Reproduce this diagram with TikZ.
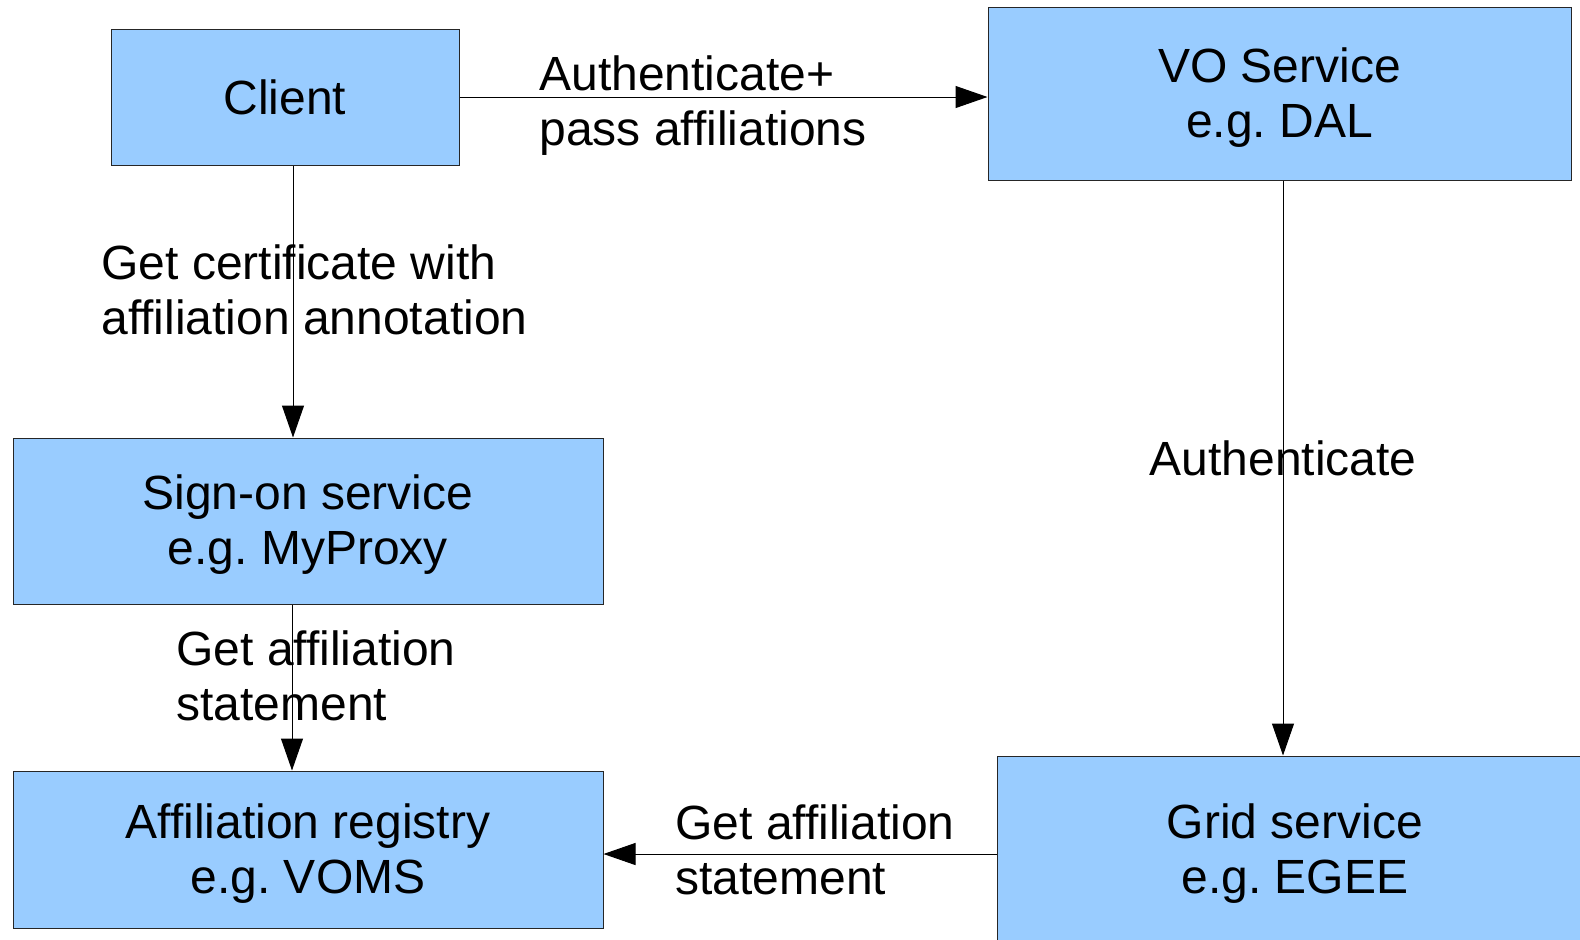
\documentclass[tikz,border=0pt]{standalone}
\usepackage{fontspec}
\setmainfont{Liberation Sans}
\usetikzlibrary{arrows.meta}
\definecolor{boxblue}{HTML}{99CCFF}
\frenchspacing
\newcommand{\boxtop}{\rule{0pt}{21pt}}
\begin{document}
\begin{tikzpicture}[x=0.5pt, y=-0.5pt,
  box/.style={draw=black!85, line width=0.5pt, fill=boxblue, inner sep=0pt, align=center, font=\fontsize{24}{27.5}\selectfont},
  lbl/.style={inner sep=0pt, align=left, font=\fontsize{24}{27.5}\selectfont},
  arr/.style={line width=0.5pt, -{Triangle[length=16pt, width=11pt]}}]
\useasboundingbox (0,0) rectangle (1580,939);
\node[box, minimum width=174pt, minimum height=68pt] (client) at (285,97){Client};
\node[box, minimum width=291.5pt, minimum height=86.5pt] (vo) at (1279.5,93.5){\boxtop VO Service\\e.g. DAL};
\node[box, minimum width=295pt, minimum height=83pt] (signon) at (308,521){\boxtop Sign-on service\\e.g. MyProxy};
\node[box, minimum width=295pt, minimum height=78.5pt] (registry) at (308,849.5){\boxtop Affiliation registry\\e.g. VOMS};
\node[box, minimum width=298pt, minimum height=93.5pt] (grid) at (1295,849.5){\boxtop Grid service\\e.g. EGEE};
\draw[arr](client.east) -- (client.east -| vo.west);
\draw[arr]([xshift=4pt]client.south) -- ([xshift=4pt]client.south |- signon.north);
\draw[arr]([xshift=-8pt]signon.south) -- ([xshift=-8pt]signon.south |- registry.north);
\draw[arr]([xshift=1.75pt]vo.south) -- ([xshift=1.75pt]vo.south |- grid.north);
\draw[arr]([yshift=-2.25pt]grid.west) -- ([yshift=-2.25pt]grid.west -| registry.east);
\node[lbl, anchor=west] (lpass) at (539,105.5){Authenticate+\\pass affiliations};
\node[lbl, anchor=west] (lcert) at (101,289.5){Get certificate with\\affiliation annotation};
\node[lbl] (lauth) at (1283,458){Authenticate};
\node[lbl, anchor=west] (lstmt0) at (176,676){Get affiliation\\statement};
\node[lbl, anchor=west] (lstmt1) at (675,849.5){Get affiliation\\statement};
\end{tikzpicture}
\end{document}
